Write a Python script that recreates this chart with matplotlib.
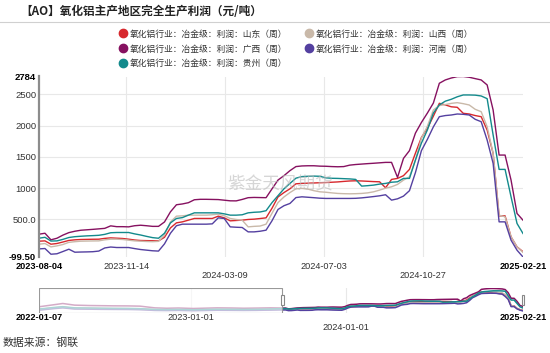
import pandas as pd
import matplotlib
matplotlib.use("Agg")
import matplotlib.pyplot as plt
import matplotlib.transforms as mtransforms
from matplotlib.lines import Line2D
from matplotlib.patches import Rectangle

plt.rcParams["font.family"] = ["Liberation Sans", "Noto Sans CJK SC"]

W, H = 550, 353  # output size in pixels

# weekly profit, 2023-08-04 .. 2025-02-21 (yuan / tonne)
dates = pd.date_range("2023-08-04", "2025-02-21", freq="7D")

shandong = [153, 158, 105, 116, 140, 165, 175, 180, 182, 184, 185, 198, 206, 201, 196, 185, 172, 164, 162, 160,
            158, 215, 365, 446, 462, 489, 516, 516, 516, 516, 553, 526, 478, 484, 489, 500, 505, 515, 526, 680,
            860, 930, 990, 1070, 1076, 1080, 1083, 1087, 1090, 1095, 1100, 1108, 1115, 1118, 1115, 1110, 1105, 1102, 1006, 1140,
            1156, 1200, 1300, 1560, 1810, 1956, 2150, 2356, 2330, 2300, 2292, 2196, 2185, 2160, 2142, 1929, 1556, 558, 558, 222,
            62, -15]
shanxi = [105, 116, 62, 78, 100, 135, 145, 153, 155, 157, 158, 175, 185, 185, 180, 169, 158, 153, 148, 145,
          150, 250, 460, 553, 558, 569, 569, 569, 569, 575, 585, 560, 516, 500, 489, 382, 390, 395, 425, 600,
          770, 860, 930, 990, 996, 985, 960, 942, 935, 925, 916, 912, 910, 912, 916, 925, 942, 969, 1000, 1022,
          1060, 1129, 1182, 1450, 1800, 1990, 2250, 2320, 2335, 2355, 2366, 2350, 2329, 2260, 2222, 1982, 1556, 569, 542, 222,
          62, -25]
guangxi = [265, 280, 175, 200, 250, 290, 312, 328, 335, 342, 350, 358, 398, 385, 385, 382, 400, 408, 400, 390,
           390, 460, 622, 735, 748, 768, 815, 822, 822, 820, 818, 808, 798, 797, 820, 848, 852, 850, 848, 990,
           1130, 1200, 1280, 1345, 1355, 1358, 1358, 1352, 1350, 1345, 1342, 1345, 1368, 1378, 1385, 1392, 1398, 1405, 1412, 1412,
           1172, 1476, 1600, 1880, 2050, 2200, 2360, 2676, 2729, 2760, 2782, 2784, 2772, 2750, 2729, 2649, 2249, 1529, 1529, 1129,
           596, 489]
henan = [30, 36, -55, -48, -12, 25, -23, -20, -18, -15, -5, 45, 60, 52, 52, 52, 35, 20, 10, 0,
         -5, 110, 280, 400, 425, 425, 425, 425, 425, 430, 526, 516, 382, 376, 372, 302, 302, 312, 329, 480,
         660, 720, 756, 850, 862, 855, 848, 840, 836, 836, 836, 836, 836, 838, 845, 855, 866, 878, 895, 809,
         830, 873, 960, 1250, 1600, 1780, 1980, 2142, 2160, 2169, 2185, 2180, 2169, 2100, 2062, 1769, 1396, 462, 462, 169,
         9, -99.5]
guizhou = [201, 215, 155, 158, 182, 212, 225, 232, 238, 242, 247, 262, 288, 292, 292, 292, 270, 252, 230, 210,
           200, 280, 445, 516, 530, 569, 606, 606, 606, 606, 606, 590, 569, 569, 575, 606, 615, 620, 640, 770,
           880, 990, 1076, 1160, 1185, 1190, 1193, 1190, 1165, 1158, 1156, 1152, 1148, 1140, 1033, 1040, 1049, 1065, 1076, 1095,
           1102, 1156, 1156, 1450, 1720, 1930, 2200, 2330, 2390, 2420, 2460, 2489, 2489, 2486, 2473, 2430, 1850, 1300, 1300, 862,
           436, 276]

# older history, only shown in the navigator strip
hist_dates = pd.to_datetime(["2022-01-07", "2022-02-11", "2022-03-04", "2022-04-01", "2022-05-06", "2022-06-03",
                             "2022-07-01", "2022-08-05", "2022-09-02", "2022-10-07", "2022-11-04", "2022-12-02",
                             "2023-01-06", "2023-02-03", "2023-03-03", "2023-04-07", "2023-05-05", "2023-06-02",
                             "2023-07-07", "2023-07-28"])
hist_shandong = [100, 300, 400, 250, 230, 210, 200, 190, 160, 60, 40, 60, 20, 50, 80, 70, 60, 70, 110, 150]
hist_shanxi = [50, 250, 350, 200, 180, 160, 150, 140, 110, 20, 0, 20, -20, 10, 40, 30, 20, 30, 60, 100]
hist_guangxi = [440, 700, 860, 650, 600, 580, 560, 550, 520, 300, 250, 280, 220, 260, 300, 280, 250, 270, 300, 280]
hist_henan = [0, 200, 300, 150, 130, 110, 100, 90, 60, -30, -50, -30, -70, -40, -10, -20, -30, -20, 10, 30]
hist_guizhou = [150, 350, 450, 300, 280, 260, 240, 230, 200, 100, 80, 100, 60, 90, 120, 110, 100, 110, 150, 200]

labels = ["氧化铝行业：冶金级：利润：山东（周）", "氧化铝行业：冶金级：利润：山西（周）",
          "氧化铝行业：冶金级：利润：广西（周）", "氧化铝行业：冶金级：利润：河南（周）",
          "氧化铝行业：冶金级：利润：贵州（周）"]
colors = ["#d7282d", "#c9b9a9", "#861160", "#5440a0", "#138a8c"]
main_data = [shandong, shanxi, guangxi, henan, guizhou]
hist_data = [hist_shandong, hist_shanxi, hist_guangxi, hist_henan, hist_guizhou]

ytick_vals = [-99.5, 500, 1000, 1500, 2000, 2500, 2784]
ytick_text = ["-99.50", "500.0", "1000", "1500", "2000", "2500", "2784"]
xtick_dates = pd.to_datetime(["2023-08-04", "2023-11-14", "2024-03-09", "2024-07-03", "2024-10-27", "2025-02-21"])
nav_tick_dates = pd.to_datetime(["2022-01-07", "2023-01-01", "2024-01-01", "2025-02-21"])

cjk = ["Noto Sans CJK SC", "DejaVu Sans"]

fig = plt.figure(figsize=(W / 100, H / 100), dpi=100)
fig.patch.set_facecolor("white")

# title and rule under it
fig.text(20.5 / W, 1 - 11.7 / H, "【AO】氧化铝主产地区完全生产利润（元/吨）", family=cjk,
         fontsize=8.4, fontweight="bold", color="#222222", ha="left", va="center")
fig.add_artist(Line2D([0, 1], [1 - 21.7 / H] * 2, transform=fig.transFigure, color="#d0d0d0", lw=0.8))

# main chart
ax = fig.add_axes([39 / W, 1 - 257 / H, 484 / W, 180.5 / H])
for v in [500, 1000, 1500, 2000, 2500]:
    ax.axhline(v, color="#e8e8e8", lw=0.8, zorder=0)
for d in xtick_dates[1:-1]:
    ax.axvline(d, color="#e8e8e8", lw=0.8, zorder=0)

for vals, c in zip(main_data, colors):
    ax.plot(dates, vals, color=c, lw=1.0, zorder=2)

ax.set_xlim(dates[0], dates[-1])
ax.set_ylim(-99.5, 2784)
for s in ["top", "right", "bottom"]:
    ax.spines[s].set_visible(False)
ax.spines["left"].set_color("#8c8c8c")
ax.spines["left"].set_linewidth(1.6)
ax.set_yticks(ytick_vals)
ax.set_yticklabels(ytick_text)
ax.tick_params(axis="y", length=0, pad=2, labelsize=6.8, labelcolor="#333333")
for i, t in enumerate(ax.get_yticklabels()):
    if i in (0, len(ytick_vals) - 1):
        t.set_fontweight("bold")
        t.set_color("black")
ax.set_xticks([])

trans = mtransforms.blended_transform_factory(ax.transData, ax.transAxes)
for i, d in enumerate(xtick_dates):
    edge = i in (0, len(xtick_dates) - 1)
    y = -0.05 if i % 2 == 1 or edge else -0.1025
    ax.text(d, y, d.strftime("%Y-%m-%d"), transform=trans, ha="center", va="center",
            fontsize=6.6, color="black" if edge else "#333333",
            fontweight="bold" if edge else "normal")

# legend
handles = [Line2D([], [], marker="o", color=c, linestyle="none", markersize=6) for c in colors]
order = [0, 2, 4, 1, 3]
fig.legend([handles[i] for i in order], [labels[i] for i in order], ncol=2,
           loc="upper left", bbox_to_anchor=(119.5 / W, 1 - 29.5 / H), frameon=False,
           prop={"family": cjk, "size": 6.3}, handlelength=0.8, handletextpad=0.35,
           columnspacing=2.1, labelspacing=0.68, borderpad=0, borderaxespad=0, labelcolor="#333333")

# watermark
fig.text(280 / W, 1 - 184 / H, "紫金天风期货", family=cjk, fontsize=12.7, color="#bbbbbb",
         alpha=0.6, ha="center", va="center", zorder=10)

# navigator strip
nav = fig.add_axes([39 / W, 1 - 313 / H, 484 / W, 25 / H])
for d in nav_tick_dates[1:3]:
    nav.axvline(d, color="#e8e8e8", lw=0.8, zorder=0)
for hv, mv, c in zip(hist_data, main_data, colors):
    nav.plot(list(hist_dates) + list(dates), hv + mv, color=c, lw=1.1, zorder=2)
nav.set_xlim(nav_tick_dates[0], dates[-1])
nav.set_ylim(-360, 2850)
nav.axis("off")
nav.axvspan(nav_tick_dates[0], dates[0], facecolor="white", alpha=0.65, edgecolor="none", zorder=3)
nav.axvspan(nav_tick_dates[0], dates[0], facecolor="none", edgecolor="#999999", lw=0.8, zorder=4)
ntrans = mtransforms.blended_transform_factory(nav.transData, nav.transAxes)
for d in [dates[0], dates[-1]]:
    nav.add_patch(Rectangle((d - pd.Timedelta(days=3.5), 0.32), pd.Timedelta(days=7), 0.4,
                            transform=ntrans, facecolor="white", edgecolor="#888888", lw=0.8,
                            zorder=5, clip_on=False))
for i, d in enumerate(nav_tick_dates):
    edge = i in (0, len(nav_tick_dates) - 1)
    y = -0.58 if i == 2 else -0.2
    nav.text(d, y, d.strftime("%Y-%m-%d"), transform=ntrans, ha="center", va="center",
             fontsize=6.6, color="black" if edge else "#333333",
             fontweight="bold" if edge else "normal")

fig.text(3 / W, 1 - 343 / H, "数据来源：钢联", family=cjk, fontsize=7.8, color="#333333",
         ha="left", va="center")

fig.savefig("out.png", dpi=100)
